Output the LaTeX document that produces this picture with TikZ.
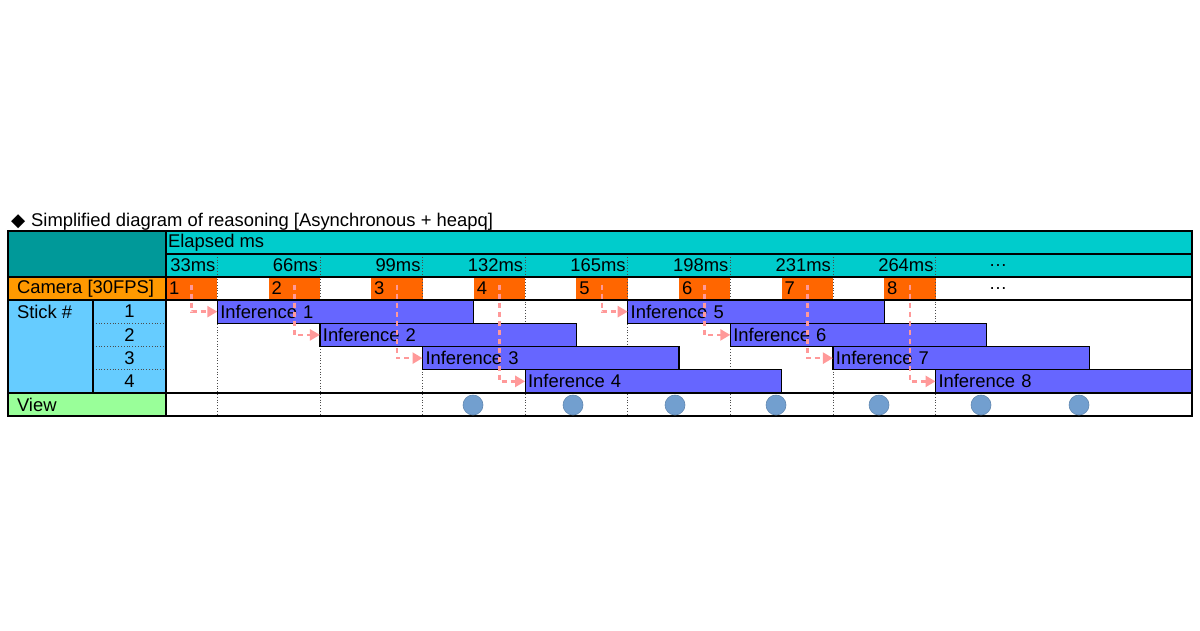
\documentclass[tikz,border=0pt]{standalone}
\usepackage{fontspec}
\setmainfont{Liberation Sans}
\newfontfamily\symfont{DejaVu Sans}
\usetikzlibrary{calc, arrows.meta}

\definecolor{headdark}{HTML}{009999}
\definecolor{headcyan}{HTML}{00CCCC}
\definecolor{camlabel}{HTML}{FF9900}
\definecolor{camorange}{HTML}{FF6600}
\definecolor{stickblue}{HTML}{66CCFF}
\definecolor{viewgreen}{HTML}{99FF99}
\definecolor{infblue}{HTML}{6666FF}
\definecolor{viewblue}{HTML}{729FCF}
\definecolor{arrowpink}{HTML}{FF9999}

\begin{document}
\begin{tikzpicture}[x=1pt, y=-1pt, font=\fontsize{18.4}{21}\selectfont]
    \tikzstyle{cell} = [rectangle, inner sep=0pt, outer sep=0pt, anchor=north west]
    \tikzstyle{lbl} = [inner sep=0pt, outer sep=0pt, anchor=west]
    \tikzstyle{bar} = [cell, draw=black, line width=1.2pt, fill=infblue,
        minimum height=23.25pt, text width=250.5pt, inner xsep=3pt, align=left]
    \tikzstyle{handoff} = [draw=arrowpink, line width=2.5pt,
        dash pattern=on 5pt off 4pt, -{Triangle[length=10pt, width=11pt]}]
    \tikzstyle{gridline} = [black!70, line width=0.8pt, dotted]
    \tikzstyle{frame} = [black, line width=1.2pt]
    \tikzstyle{viewdot} = [circle, fill=viewblue, draw=viewblue!85!black,
        line width=0.6pt, minimum size=20pt, inner sep=0pt]

    \useasboundingbox (0,0) rectangle (1200,630);
    \pgfmathsetmacro{\frameW}{51.3}

    % Title
    \node[lbl, anchor=base west] (title) at (11,226)
        {{\symfont ◆}\hspace{6pt}Simplified diagram of reasoning [Asynchronous + heapq]};

    % Header and row cells ------------------------------
    \node[cell, fill=headdark, minimum width=158pt, minimum height=46pt] (corner) at (8,231) {};
    \node[cell, fill=headcyan, minimum width=1026pt, minimum height=46pt] (elapsed) at (166,231) {};
    \node[cell, fill=camlabel, minimum width=158pt, minimum height=23pt] (camera) at (8,277) {};
    \node[cell, fill=stickblue, minimum width=158pt, minimum height=93pt] (stick) at (8,300) {};
    \node[cell, fill=viewgreen, minimum width=158pt, minimum height=23pt] (view) at (8,393) {};

    % Camera frames
    \node[cell, fill=camorange, minimum width=51.3pt, minimum height=23pt] (cam1) at (166,277) {};
    \foreach \n in {2,...,8}
        \node[cell, fill=camorange, minimum width=51.3pt, minimum height=23pt]
            (cam\n) at ({166+\frameW*(2*\n-2)},277) {};
    % ---------------------------------------------------

    % Time grid
    \foreach \k in {1,3,...,15}
        \draw[gridline] ({166+\frameW*\k},254) -- ({166+\frameW*\k},416);
    \foreach \r in {1,2,3}
        \draw[gridline] (93,{300+23.25*\r}) -- (166,{300+23.25*\r});

    % Inferences ----------------------------------------
    \foreach \n/\row in {1/1, 2/2, 3/3, 4/4, 5/1, 6/2, 7/3, 8/4}
        \node[bar] (inf\n) at ({166+\frameW*(2*\n-1)},{300+23.25*(\row-1)}) {Inference \n};

    \foreach \n in {1,...,8}
        \draw[handoff] ($(cam\n.center)+(0,-4)$) |- (inf\n.west);
    % ---------------------------------------------------

    % Table lines
    \draw[frame] (8,231) rectangle (1192,416);
    \draw[frame] (166,231) -- (166,416);
    \draw[frame] (166,254) -- (1192,254);
    \foreach \y in {277,300,393}
        \draw[frame] (8,\y) -- (1192,\y);
    \draw[frame] (93,300) -- (93,393);

    % Labels
    \node[lbl] (elapsedtxt) at (168,242.5) {Elapsed ms};
    \foreach \t [count=\i] in {33,66,99,132,165,198,231,264}
        \node[lbl, anchor=east] (ms\i) at ({166+\frameW*(2*\i-1)-2},265.5) {\t ms};
    \node[lbl, anchor=center] (msmore) at (998,266) {\dots};
    \foreach \n in {1,...,8}
        \node[lbl] (camtxt\n) at ($(cam\n.west)+(3,0)$) {\n};
    \node[lbl, anchor=center] (cammore) at (998,289) {\dots};

    \node[lbl] (cameratxt) at ($(camera.west)+(9,0)$) {Camera [30FPS]};
    \node[lbl] (sticktxt) at (17,311.6) {Stick \#};
    \foreach \r in {1,...,4}
        \node[lbl, anchor=center] (num\r) at (129.5,{300+23.25*(\r-0.5)}) {\r};
    \node[lbl] (viewtxt) at ($(view.west)+(9,0)$) {View};

    % View updates
    \foreach \x [count=\i] in {473,573,675,776,879,981,1079}
        \node[viewdot] (update\i) at (\x,405) {};
\end{tikzpicture}
\end{document}
